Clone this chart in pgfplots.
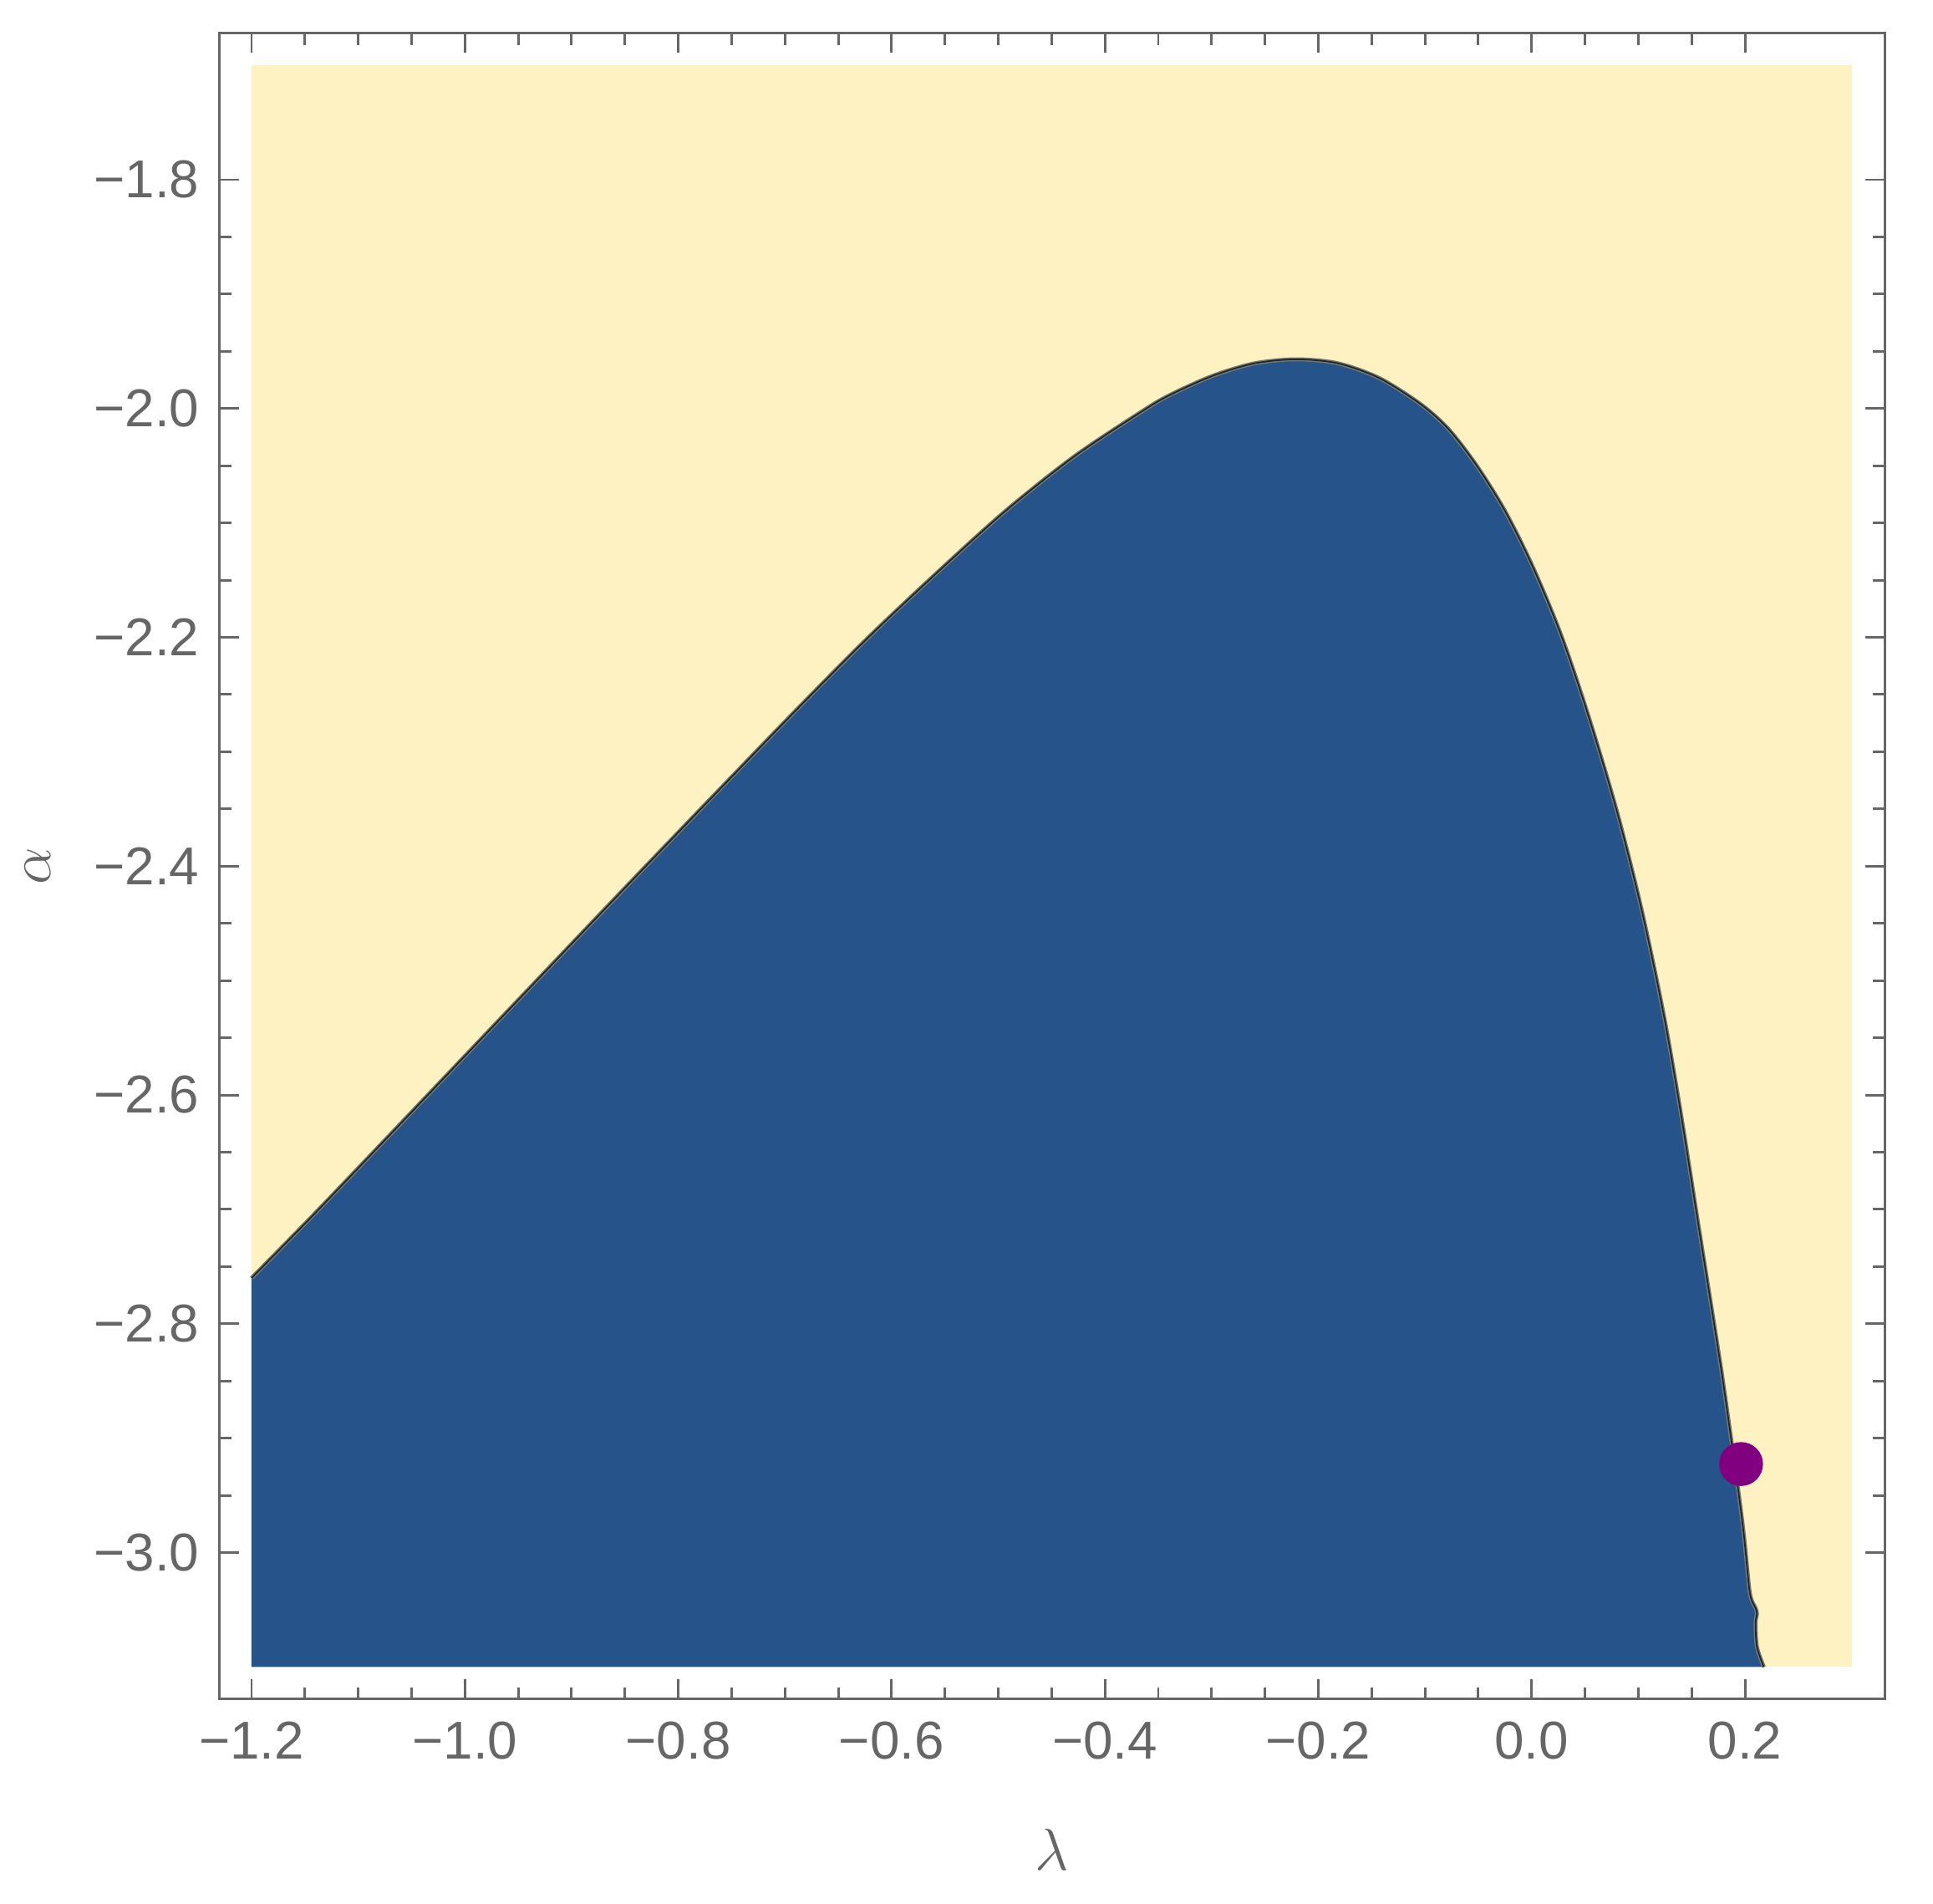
\documentclass[border=0pt]{standalone}
\usepackage{pgfplots}
\usepackage{pgfplotstable}
\pgfplotsset{compat=1.18}
\usepackage{fontspec}
\setmainfont{Liberation Sans}
\definecolor{fr}{HTML}{666666}
\definecolor{bluef}{RGB}{38,83,137}
\definecolor{yelf}{RGB}{255,242,194}
\definecolor{bline}{RGB}{125,120,96}
\definecolor{bdark}{RGB}{22,40,64}
\definecolor{dotc}{RGB}{128,0,128}

\pgfplotstableread{
x y
-1.2000 -2.7600
-1.1436 -2.7064
-1.0787 -2.6431
-1.0136 -2.5793
-0.9487 -2.5157
-0.8837 -2.4520
-0.8187 -2.3886
-0.7538 -2.3257
-0.6888 -2.2630
-0.6238 -2.2019
-0.5588 -2.1447
-0.4938 -2.0900
-0.4288 -2.0419
-0.3638 -2.0016
-0.3387 -1.9880
-0.2995 -1.9716
-0.2603 -1.9606
-0.2212 -1.9570
-0.1820 -1.9604
-0.1428 -1.9734
-0.1036 -1.9965
-0.0775 -2.0184
-0.0513 -2.0502
-0.0252 -2.0892
0.0009 -2.1380
0.0270 -2.1965
0.0518 -2.2645
0.0793 -2.3500
0.1028 -2.4369
0.1237 -2.5293
0.1394 -2.6133
0.1550 -2.7057
0.1707 -2.7980
0.1785 -2.8448
0.1851 -2.8880
0.1942 -2.9492
0.1994 -2.9884
0.2046 -3.0355
0.2099 -3.0485
0.2112 -3.0537
0.2099 -3.0616
0.2112 -3.0825
0.2177 -3.1000
}\curve

\begin{document}
\begin{tikzpicture}
\begin{axis}[
  scale only axis,
  width=337.75pt, height=337.75pt,
  xmin=-1.2301, xmax=0.3312,
  ymin=-3.128, ymax=-1.672,
  axis line style={fr, line width=0.55pt},
  every tick/.style={fr, line width=0.5pt},
  major tick length=4pt,
  minor tick length=2.4pt,
  tick align=inside,
  xtick={-1.2,-1.0,-0.8,-0.6,-0.4,-0.2,0.0,0.2},
  xticklabels={−1.2,−1.0,−0.8,−0.6,−0.4,−0.2,0.0,0.2},
  ytick={-3.0,-2.8,-2.6,-2.4,-2.2,-2.0,-1.8},
  yticklabels={−3.0,−2.8,−2.6,−2.4,−2.2,−2.0,−1.8},
  minor x tick num=3,
  minor y tick num=3,
  ticklabel style={font=\fontsize{10.8}{13}\selectfont, text=fr, inner sep=0pt},
  xticklabel style={yshift=-4.5pt},
  yticklabel style={xshift=-3.9pt},
  every axis x label/.style={at={(axis description cs:0.5,-0.0903)}, anchor=center, font=\fontsize{11.5}{13}\selectfont, text=fr, inner sep=0pt},
  every axis y label/.style={at={(axis description cs:-0.1092,0.5)}, anchor=center, rotate=90, font=\fontsize{11.5}{13}\selectfont, text=fr, inner sep=0pt},
  xlabel={$\lambda$},
  ylabel={$\alpha$},
]
\addplot[draw=none, fill=yelf] coordinates {(-1.2,-3.1) (0.3,-3.1) (0.3,-1.7) (-1.2,-1.7)} -- cycle;
\addplot[draw=none, fill=bluef, smooth] table {\curve} -- (axis cs:-1.2,-3.1) -- cycle;
\addplot[bline, line width=0.8pt, smooth] table {\curve};
\addplot[bdark, line width=0.3pt, smooth] table {\curve};
\addplot[only marks, mark=*, mark size=4.25pt, color=dotc, mark options={draw=dotc, fill=dotc}] coordinates {(0.1963,-2.9226)};
\coordinate (SW) at (rel axis cs:0,0);
\coordinate (NE) at (rel axis cs:1,1);
\end{axis}
\pgfresetboundingbox
\path ([xshift=-44.5pt,yshift=-41.5pt]SW) rectangle ([xshift=9.75pt,yshift=6.75pt]NE);
\end{tikzpicture}
\end{document}
